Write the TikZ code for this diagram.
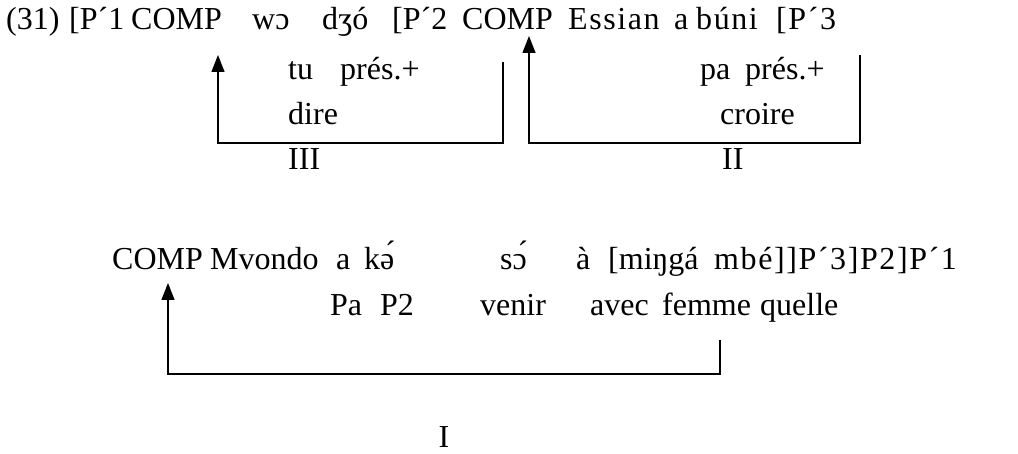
\documentclass[tikz,border=0pt]{standalone}
\usepackage{fontspec}
\setmainfont{Liberation Serif}
\usetikzlibrary{arrows.meta}
\begin{document}
\begin{tikzpicture}[x=1pt,y=-1pt,
  w/.style={anchor=base west,inner sep=0pt,font=\fontsize{32}{38}\selectfont},
  wide/.style={w,font=\fontsize{32}{38}\selectfont\addfontfeature{LetterSpace=5}},
  link/.style={line width=1.4pt},
  up/.style={link,-{Triangle[width=13pt,length=17pt]}}]
\useasboundingbox (0,0) rectangle (1018,454);
% line 1
\node[w] (a1) at (6,30) {(31)};
\node[w] (a2) at (69,30) {[P´1};
\node[w] (a3) at (131,30) {COMP};
\node[w] (a4) at (252,30) {wɔ};
\node[w] (a5) at (322,30) {dʒó};
\node[w] (a6) at (392,30) {[P´2};
\node[w] (a7) at (462,30) {COMP};
\node[wide] (a8) at (568,30) {Essian};
\node[w] (a9) at (674,30) {a};
\node[wide] (a10) at (696,30) {búni};
\node[wide] (a11) at (776,30) {[P´3};
% glosses of III and II
\node[w] (b1) at (288,80) {tu};
\node[w] (b2) at (340,80) {prés.+};
\node[w] (b3) at (288,125) {dire};
\node[w] (b4) at (288,170) {III};
\node[w] (c1) at (700,80) {pa};
\node[w] (c2) at (745,80) {prés.+};
\node[w] (c3) at (720,125) {croire};
\node[w] (c4) at (722,170) {II};
% line 2
\node[w] (d1) at (112,270) {COMP};
\node[w] (d2) at (210,270) {Mvondo};
\node[w] (d3) at (336,270) {a};
\node[w] (d4) at (364,270) {kə́};
\node[w] (d5) at (500,270) {sɔ́};
\node[w] (d6) at (576,270) {à};
\node[w] (d7) at (608,270) {[miŋgá};
\node[wide] (d8) at (714,270) {mbé]]P´3]P2]P´1};
% glosses
\node[w] (e1) at (330,316) {Pa};
\node[w] (e2) at (380,316) {P2};
\node[w] (e3) at (480,316) {venir};
\node[w] (e4) at (590,316) {avec};
\node[w] (e5) at (662,316) {femme};
\node[w] (e6) at (760,316) {quelle};
\node[w,anchor=base] (e7) at (444,447) {I};
% arrows
\coordinate (IIIt) at (218,55);
\coordinate (IIIb) at (218,143);
\coordinate (IIIr) at (503,62);
\draw[up] (IIIr) |- (IIIb) -- (IIIt);
\coordinate (IIt) at (529,36);
\coordinate (IIb) at (529,143);
\coordinate (IIr) at (860,55);
\draw[up] (IIr) |- (IIb) -- (IIt);
\coordinate (It) at (168,283);
\coordinate (Ib) at (168,374);
\coordinate (Ir) at (720,340);
\draw[up] (Ir) |- (Ib) -- (It);
\end{tikzpicture}
\end{document}
